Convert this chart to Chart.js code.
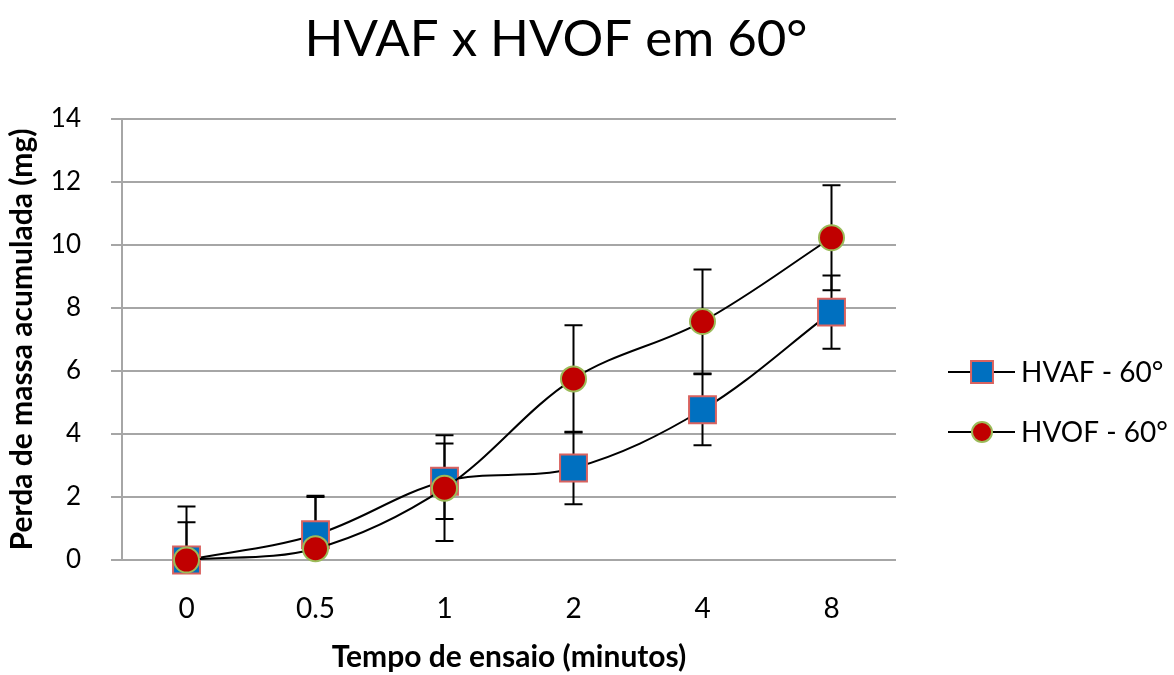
<!DOCTYPE html>
<html>
<head>
<meta charset="utf-8">
<script src="https://cdn.jsdelivr.net/npm/chart.js@4.4.1/dist/chart.umd.min.js"></script>
<style>
  html, body { margin: 0; padding: 0; background: #fff; }
  #wrap { width: 1174px; height: 675px; }
</style>
</head>
<body>
<div id="wrap"><canvas id="massLoss"></canvas></div>
<script>
// tempo de ensaio (min) e perda de massa acumulada (mg)
const tempos = ['0', '0.5', '1', '2', '4', '8'];
const hvaf = [0, 0.8, 2.5, 2.92, 4.77, 7.87];
const hvafErro = [1.2, 1.2, 1.2, 1.15, 1.13, 1.16];
const hvof = [0, 0.36, 2.28, 5.75, 7.57, 10.23];
const hvofErro = [1.7, 1.68, 1.68, 1.7, 1.65, 1.67];
const yTicks = [0, 2, 4, 6, 8, 10, 12, 14];

const fonte = 'Lato, "Open Sans", sans-serif';

// barras de erro (desvio) desenhadas atras das linhas
const errorBars = {
  id: 'errorBars',
  beforeDatasetsDraw(chart) {
    const ctx = chart.ctx, y = chart.scales.y, a = chart.chartArea;
    ctx.save();
    ctx.beginPath();
    ctx.rect(a.left, a.top - 2, a.right - a.left, a.bottom - a.top + 3);
    ctx.clip();
    ctx.strokeStyle = '#000';
    ctx.lineWidth = 2;
    chart.data.datasets.forEach((ds, i) => {
      const meta = chart.getDatasetMeta(i);
      meta.data.forEach((pt, j) => {
        const top = y.getPixelForValue(ds.data[j] + ds.erro[j]);
        const bot = y.getPixelForValue(ds.data[j] - ds.erro[j]);
        ctx.beginPath();
        ctx.moveTo(pt.x, top); ctx.lineTo(pt.x, bot);
        ctx.moveTo(pt.x - 9, top); ctx.lineTo(pt.x + 9, top);
        ctx.moveTo(pt.x - 9, bot); ctx.lineTo(pt.x + 9, bot);
        ctx.stroke();
      });
    });
    ctx.restore();
  }
};

// titulo e legenda (linha com marcador)
const extras = {
  id: 'extras',
  afterDraw(chart) {
    const ctx = chart.ctx;
    ctx.save();
    ctx.fillStyle = '#000';
    ctx.font = '51px ' + fonte;
    ctx.textAlign = 'center';
    ctx.textBaseline = 'middle';
    ctx.fillText('HVAF x HVOF em 60°', 556, 40);

    const rows = [372, 432];
    const radii = [15.5, 10];
    chart.data.datasets.forEach((ds, i) => {
      const yy = rows[i];
      ctx.strokeStyle = '#000';
      ctx.lineWidth = 2;
      ctx.beginPath();
      ctx.moveTo(948, yy); ctx.lineTo(1015, yy);
      ctx.stroke();
      ctx.fillStyle = ds.pointBackgroundColor;
      ctx.strokeStyle = ds.pointBorderColor;
      ctx.lineWidth = ds.pointBorderWidth;
      Chart.helpers.drawPoint(ctx, {
        pointStyle: ds.pointStyle, radius: radii[i], rotation: 0, borderWidth: ds.pointBorderWidth
      }, 982, yy);
      ctx.fillStyle = '#000';
      ctx.font = '28px ' + fonte;
      ctx.textAlign = 'left';
      ctx.fillText(ds.label, 1021, yy + 1);
    });
    ctx.restore();
  }
};

new Chart(document.getElementById('massLoss'), {
  type: 'line',
  data: {
    labels: tempos,
    datasets: [{
      label: 'HVAF - 60°',
      data: hvaf,
      erro: hvafErro,
      order: 2,
      clip: false,
      borderColor: '#000',
      borderWidth: 2,
      tension: 0.35,
      pointStyle: 'rect',
      pointRadius: 19,
      pointBackgroundColor: '#0070C0',
      pointBorderColor: '#D9625F',
      pointBorderWidth: 2
    }, {
      label: 'HVOF - 60°',
      data: hvof,
      erro: hvofErro,
      order: 1,
      clip: false,
      borderColor: '#000',
      borderWidth: 2,
      tension: 0.35,
      pointStyle: 'circle',
      pointRadius: 12.5,
      pointBackgroundColor: '#C00000',
      pointBorderColor: '#9BBB59',
      pointBorderWidth: 2
    }]
  },
  options: {
    responsive: true,
    maintainAspectRatio: false,
    animation: false,
    layout: { padding: { top: 119, right: 278, bottom: 0, left: 0 } },
    plugins: {
      legend: { display: false },
      title: { display: false },
      tooltip: { enabled: false }
    },
    scales: {
      x: {
        offset: true,
        afterFit(s) { s.height = 115; },
        grid: { display: false },
        border: { display: false },
        ticks: { color: '#000', padding: 24, font: { family: fonte, size: 28 } },
        title: {
          display: true,
          text: 'Tempo de ensaio (minutos)',
          color: '#000',
          font: { family: fonte, size: 30, weight: 'bold' },
          padding: { top: 0, bottom: 0 }
        }
      },
      y: {
        min: 0,
        max: 14,
        afterFit(s) { s.width = 122; },
        afterBuildTicks(s) { s.ticks = yTicks.map(v => ({ value: v })); },
        grid: { color: '#a6a6a6', lineWidth: 2, tickLength: 11 },
        border: { display: true, color: '#a6a6a6', width: 2 },
        ticks: { color: '#000', padding: 30, font: { family: fonte, size: 26 } },
        title: {
          display: true,
          text: 'Perda de massa acumulada (mg)',
          color: '#000',
          font: { family: fonte, size: 30, weight: 'bold' },
          padding: { top: 4, bottom: 0 }
        }
      }
    }
  },
  plugins: [errorBars, extras]
});
</script>
</body>
</html>
